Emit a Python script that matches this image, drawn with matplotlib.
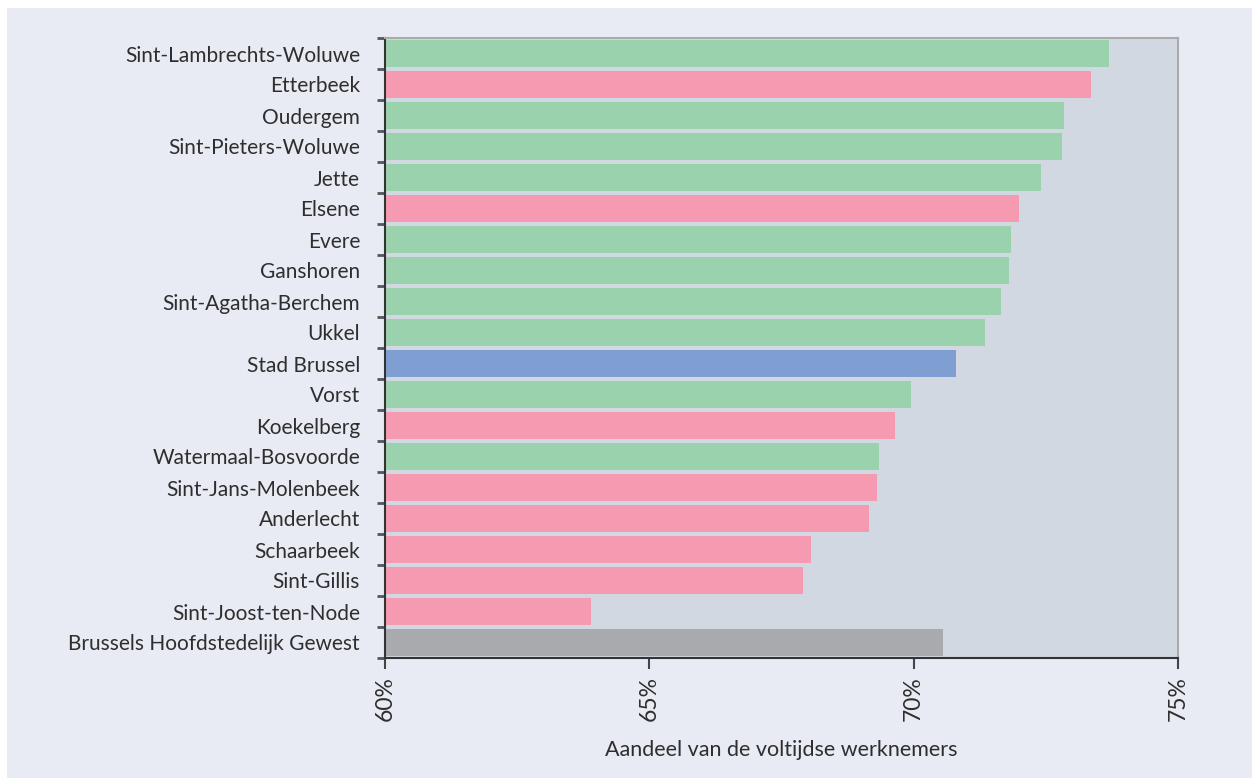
import numpy as np
import matplotlib.pyplot as plt
from matplotlib.patches import Rectangle

# --- data ---
gemeenten = [
    "Sint-Lambrechts-Woluwe", "Etterbeek", "Oudergem", "Sint-Pieters-Woluwe",
    "Jette", "Elsene", "Evere", "Ganshoren", "Sint-Agatha-Berchem", "Ukkel",
    "Stad Brussel", "Vorst", "Koekelberg", "Watermaal-Bosvoorde",
    "Sint-Jans-Molenbeek", "Anderlecht", "Schaarbeek", "Sint-Gillis",
    "Sint-Joost-ten-Node", "Brussels Hoofdstedelijk Gewest",
]
aandeel = [
    73.7, 73.35, 72.85, 72.8, 72.4, 72.0, 71.85, 71.8, 71.65, 71.35,
    70.8, 69.95, 69.65, 69.35, 69.3, 69.15, 68.05, 67.9, 63.9, 70.55,
]
groep = [
    "groen", "roze", "groen", "groen", "groen", "roze", "groen", "groen",
    "groen", "groen", "blauw", "groen", "roze", "groen", "roze", "roze",
    "roze", "roze", "roze", "grijs",
]
x_ticks = [60, 65, 70, 75]
x_ticklabels = ["60%", "65%", "70%", "75%"]

kleuren = {"groen": "#9bd2ae", "roze": "#f59ab0", "blauw": "#7f9fd3", "grijs": "#a9aaad"}
TEKST = "#2e2e2e"

plt.rcParams['font.family'] = ['Lato', 'DejaVu Sans']

fig = plt.figure(figsize=(12.52, 7.78), dpi=100, facecolor="white")
# lichte achtergrond met witte rand links/boven
fig.patches.append(Rectangle((7 / 1252, 0), 1, 1 - 8 / 778, transform=fig.transFigure,
                             facecolor="#e8ebf3", edgecolor="none", zorder=-10))

ax = fig.add_axes([385 / 1252, 1 - 658 / 778, (1178 - 385) / 1252, (658 - 38) / 778])
ax.set_facecolor("#d1d8e2")

n = len(gemeenten)
y = np.arange(n)
links = x_ticks[0]
ax.barh(y, [v - links for v in aandeel], left=links, height=0.86,
        color=[kleuren[g] for g in groep], zorder=2)

ax.set_xlim(60, 75)
ax.set_ylim(n - 0.5, -0.5)

ax.set_yticks(y)
ax.set_yticklabels(gemeenten, fontsize=15, color=TEKST)
ax.set_yticks(np.arange(n + 1) - 0.5, minor=True)
ax.tick_params(axis="y", which="major", length=0, pad=18)
ax.tick_params(axis="y", which="minor", length=6, width=2, color="#555555", direction="out")

ax.set_xticks(x_ticks)
ax.set_xticklabels(x_ticklabels, rotation=90, fontsize=16.5, color=TEKST)
ax.tick_params(axis="x", which="major", length=8, width=1.5, color="#444444", pad=5)

ax.set_xlabel("Aandeel van de voltijdse werknemers", fontsize=15.5, color=TEKST, labelpad=14)

for kant in ["left", "bottom"]:
    ax.spines[kant].set_color("#333333")
    ax.spines[kant].set_linewidth(1.5)
for kant in ["top", "right"]:
    ax.spines[kant].set_color("#aaaaaa")
    ax.spines[kant].set_linewidth(1.5)

fig.savefig("out.png", dpi=100, facecolor=fig.get_facecolor())
plt.close(fig)
